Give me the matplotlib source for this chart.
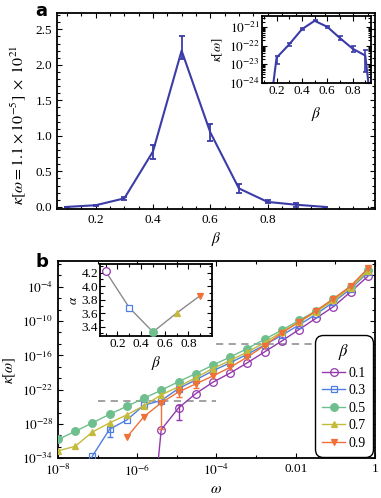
import numpy as np
import matplotlib.pyplot as plt
from matplotlib.ticker import FixedLocator, FixedFormatter, NullFormatter

plt.rcParams['font.family'] = ['Liberation Serif', 'DejaVu Serif']
plt.rcParams['mathtext.fontset'] = 'stix'

# ---------------- panel a data ----------------
beta_a = [0.1, 0.2, 0.3, 0.4, 0.5, 0.6, 0.7, 0.8, 0.9, 1.0]
kappa_a = [1e-7, 0.023, 0.12, 0.78, 2.2, 1.05, 0.26, 0.07, 0.03, 3e-8]   # x 1e-21
kappa_a_lo = [1e-7, 0.010, 0.10, 0.68, 2.08, 0.93, 0.20, 0.048, 0.004, 3e-8]
kappa_a_hi = [1e-7, 0.028, 0.14, 0.87, 2.41, 1.17, 0.32, 0.095, 0.060, 3e-8]

# ---------------- panel b data ----------------
omega = [1.0e-8, 2.72e-8, 7.39e-8, 2.01e-7, 5.46e-7, 1.48e-6, 4.03e-6, 1.10e-5,
         2.98e-5, 8.10e-5, 2.20e-4, 5.99e-4, 1.63e-3, 4.42e-3, 1.20e-2, 3.27e-2,
         8.89e-2, 2.42e-1, 6.57e-1]
nan = np.nan
# log10 kappa for each beta
logk_01 = [nan, nan, nan, nan, nan, -60.0, -29.0, -25.2, -22.7, -20.7, -19.1, -17.3,
           -15.4, -13.5, -11.5, -9.5, -7.5, -4.9, -2.2]
logk_03 = [nan, -40.0, -33.6, -28.9, -27.3, -24.7, -23.9, -21.8, -20.3, -18.7, -17.3,
           -15.8, -14.2, -12.5, -10.7, -8.8, -6.7, -4.4, -1.5]
logk_05 = [-30.7, -29.3, -27.8, -26.3, -24.9, -23.5, -22.1, -20.6, -19.2, -17.7, -16.3,
           -14.8, -13.2, -11.6, -9.9, -8.2, -6.2, -4.0, -1.1]
logk_07 = [-32.7, -31.9, -29.4, -27.8, -26.4, -24.8, -22.9, -21.5, -19.9, -18.3, -16.9,
           -15.4, -13.8, -11.9, -10.2, -8.4, -6.4, -4.2, -1.3]
logk_09 = [nan, nan, nan, nan, -30.3, -26.7, -24.3, -22.4, -21.0, -19.6, -18.1, -16.3,
           -14.3, -12.1, -10.2, -8.2, -6.1, -3.9, -0.8]
# error bars (log10 lower, upper), only where visible
err_03 = {3: (-30.3, -28.6)}
err_09 = {6: (-28.9, -24.0), 7: (-23.3, -21.6), 8: (-21.7, -20.6)}
err_01 = {7: (-27.3, -24.6)}

beta_b = [0.1, 0.3, 0.5, 0.7, 0.9]
alpha_b = [4.22, 3.68, 3.32, 3.60, 3.86]
legend_labels = ['0.1', '0.3', '0.5', '0.7', '0.9']

colors = ['#9438ad', '#4f7fe0', '#6fbe8e', '#c4bb3c', '#f07038']
markers = ['o', 's', 'o', '^', 'v']
filled = [False, False, True, True, True]

fig = plt.figure(figsize=(3.81, 4.98), dpi=100)

def style(ax, lw=1.3):
    for s in ax.spines.values():
        s.set_linewidth(lw)
    ax.tick_params(which='both', direction='in', top=True, right=True, width=0.8)
    ax.tick_params(which='major', length=3.5, labelsize=9.5)
    ax.tick_params(which='minor', length=2)

# ---------------- panel a ----------------
axa = fig.add_axes([0.1496, 0.5803, 0.8346, 0.3936])
ka = np.array(kappa_a)
lo = ka - np.array(kappa_a_lo)
hi = np.array(kappa_a_hi) - ka
axa.errorbar(beta_a, ka, yerr=[lo, hi], color='#3c3ca8', lw=1.5, capsize=2,
             capthick=1.3, elinewidth=1.3)
axa.set_xlim(0.065, 1.175)
axa.set_ylim(-0.03, 2.73)
axa.xaxis.set_major_locator(FixedLocator([0.2, 0.4, 0.6, 0.8]))
axa.xaxis.set_major_formatter(FixedFormatter(['0.2', '0.4', '0.6', '0.8']))
axa.xaxis.set_minor_locator(FixedLocator(np.arange(0.05, 1.2, 0.05)))
axa.yaxis.set_major_locator(FixedLocator([0, 0.5, 1.0, 1.5, 2.0, 2.5]))
axa.yaxis.set_major_formatter(FixedFormatter(['0.0', '0.5', '1.0', '1.5', '2.0', '2.5']))
axa.yaxis.set_minor_locator(FixedLocator(np.arange(0, 2.75, 0.1)))
style(axa)
axa.set_xlabel(r'$\beta$', fontsize=11, labelpad=3)
axa.set_ylabel(r'$\kappa[\omega = 1.1\times10^{-5}]\ \times\ 10^{21}$', fontsize=11.5)
axa.yaxis.set_label_coords(-0.092, 0.43)
fig.text(0.092, 0.996, 'a', fontsize=13, fontweight='bold', family='DejaVu Sans',
         va='top', ha='left')

# inset a
axi = fig.add_axes([0.6877, 0.8333, 0.286, 0.1345])
ka21 = ka * 1e-21
axi.errorbar(beta_a, ka21, yerr=[lo * 1e-21, hi * 1e-21], color='#3c3ca8', lw=1.5,
             capsize=1.8, capthick=1.2, elinewidth=1.2)
axi.set_yscale('log')
axi.set_ylim(1e-24, 10 ** -20.4)
axi.set_xlim(0.085, 0.945)
axi.yaxis.set_major_locator(FixedLocator([1e-24, 1e-23, 1e-22, 1e-21]))
axi.yaxis.set_major_formatter(FixedFormatter([r'$10^{-24}$', r'$10^{-23}$', r'$10^{-22}$', r'$10^{-21}$']))
axi.yaxis.set_minor_formatter(NullFormatter())
axi.xaxis.set_major_locator(FixedLocator([0.2, 0.4, 0.6, 0.8]))
axi.xaxis.set_major_formatter(FixedFormatter(['0.2', '0.4', '0.6', '0.8']))
axi.xaxis.set_minor_locator(FixedLocator(np.arange(0.1, 0.95, 0.1)))
style(axi)
axi.tick_params(which='major', labelsize=9.5, pad=1.5)
axi.set_xlabel(r'$\beta$', fontsize=11, labelpad=6)
axi.set_ylabel(r'$\kappa[\omega]$', fontsize=9.5, labelpad=3)

# ---------------- panel b ----------------
axb = fig.add_axes([0.1522, 0.0797, 0.832, 0.3962])
series = [logk_01, logk_03, logk_05, logk_07, logk_09]
errs = [err_01, err_03, {}, {}, err_09]
for s, e, c, m, f, lab in zip(series, errs, colors, markers, filled, legend_labels):
    y = 10.0 ** np.array(s)
    axb.plot(omega, y, color=c, lw=1.0, marker=m, ms=5.5 if m == 'o' else 5,
             mfc=c if f else 'none', mec=c, mew=0.9, label=lab, zorder=3)
    for k, (l, h) in e.items():
        axb.errorbar([omega[k]], [10.0 ** s[k]],
                     yerr=[[10.0 ** s[k] - 10.0 ** l], [10.0 ** h - 10.0 ** s[k]]],
                     color=c, lw=1.0, capsize=2, capthick=1.0, fmt='none', zorder=3)
axb.plot([1e-7, 1e-4], [1e-24, 1e-24], ls='--', color='#9a9a9a', lw=1.3, dashes=(4, 3), zorder=1)
axb.plot([1e-4, 10 ** -1.55], [1e-14, 1e-14], ls='--', color='#9a9a9a', lw=1.3, dashes=(4, 3), zorder=1)
axb.set_xscale('log')
axb.set_yscale('log')
axb.set_xlim(1e-8, 1)
axb.set_ylim(1e-34, 10 ** 0.5)
axb.xaxis.set_major_locator(FixedLocator([1e-8, 1e-6, 1e-4, 1e-2, 1]))
axb.xaxis.set_major_formatter(FixedFormatter([r'$10^{-8}$', r'$10^{-6}$', r'$10^{-4}$', '0.01', '1']))
axb.xaxis.set_minor_locator(FixedLocator([1e-7, 1e-5, 1e-3, 1e-1]))
axb.xaxis.set_minor_formatter(NullFormatter())
yt = [1e-34, 1e-28, 1e-22, 1e-16, 1e-10, 1e-4]
axb.yaxis.set_major_locator(FixedLocator(yt))
axb.yaxis.set_major_formatter(FixedFormatter([r'$10^{-34}$', r'$10^{-28}$', r'$10^{-22}$',
                                              r'$10^{-16}$', r'$10^{-10}$', r'$10^{-4}$']))
axb.yaxis.set_minor_locator(FixedLocator([10.0 ** p for p in range(-34, 1, 2)]))
axb.yaxis.set_minor_formatter(NullFormatter())
style(axb)
axb.set_xlabel(r'$\omega$', fontsize=11, labelpad=3)
axb.set_ylabel(r'$\kappa[\omega]$', fontsize=10.5)
axb.yaxis.set_label_coords(-0.125, 0.445)
leg = axb.legend(loc='lower right', title=r'$\beta$', fontsize=10, title_fontsize=12,
                 frameon=True, fancybox=True, edgecolor='black', framealpha=1,
                 handlelength=1.6, handletextpad=0.25, labelspacing=0.32,
                 borderpad=0.35, borderaxespad=0.0, bbox_to_anchor=(0.985, 0.02))
leg.get_frame().set_linewidth(1.0)
leg.get_frame().set_boxstyle('round,pad=0.2,rounding_size=0.6')
fig.text(0.092, 0.492, 'b', fontsize=13, fontweight='bold', family='DejaVu Sans',
         va='top', ha='left')

# inset b
axbi = fig.add_axes([0.2625, 0.3253, 0.294, 0.1446])
axbi.plot(beta_b, alpha_b, color='#8a8a8a', lw=1.0, zorder=2)
for xb, ab, c, m, f in zip(beta_b, alpha_b, colors, markers, filled):
    axbi.plot([xb], [ab], marker=m, ms=5.5 if m == 'o' else 5, mfc=c if f else 'white',
              mec=c, mew=0.9, zorder=3)
axbi.set_xlim(0.052, 1.0)
axbi.set_ylim(3.26, 4.33)
axbi.xaxis.set_major_locator(FixedLocator([0.2, 0.4, 0.6, 0.8]))
axbi.xaxis.set_major_formatter(FixedFormatter(['0.2', '0.4', '0.6', '0.8']))
axbi.xaxis.set_minor_locator(FixedLocator(np.arange(0.1, 1.0, 0.1)))
axbi.yaxis.set_major_locator(FixedLocator([3.4, 3.6, 3.8, 4.0, 4.2]))
axbi.yaxis.set_major_formatter(FixedFormatter(['3.4', '3.6', '3.8', '4.0', '4.2']))
axbi.yaxis.set_minor_locator(FixedLocator(np.arange(3.3, 4.35, 0.1)))
style(axbi)
axbi.tick_params(which='major', labelsize=9.5, pad=1.5)
axbi.set_xlabel(r'$\beta$', fontsize=11, labelpad=3)
axbi.set_ylabel(r'$\alpha$', fontsize=9.5, labelpad=1)

fig.savefig('out.png', dpi=100)
